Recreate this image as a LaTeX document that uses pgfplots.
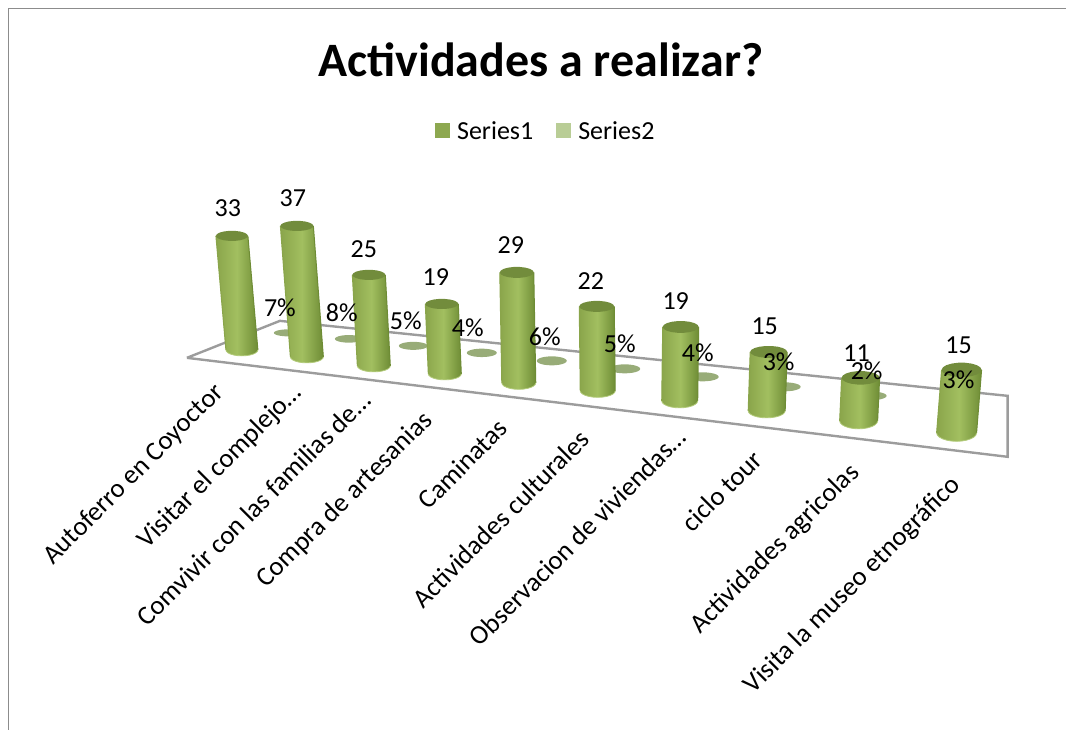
\documentclass[border=0pt]{standalone}
\usepackage{pgfplots}
\usepackage{pgfplotstable}
\usepackage{fontspec}
\setmainfont{Carlito}
\pgfplotsset{compat=1.18}
\definecolor{barL}{HTML}{8AA54B}
\definecolor{barM}{HTML}{A2BF60}
\definecolor{barR}{HTML}{6E8C35}
\definecolor{barTop}{HTML}{728C3C}
\definecolor{barRim}{HTML}{B3CB7B}
\definecolor{legA}{HTML}{8DA850}
\definecolor{legB}{HTML}{B9CD96}
\definecolor{discC}{HTML}{98AC78}
\definecolor{floorC}{HTML}{9C9C9C}
\definecolor{frameC}{HTML}{8C8C8C}
% Series1: value, base x, base y, top x, px per unit, half width, ellipse half height
\pgfplotstableread{
v xb yb xt k hw ry
33 242 350 232 3.455 16 6
37 307 357 297 3.54 16.5 6
25 374 366 369 3.64 16.5 6
19 445 374 442 3.68 16.5 6
29 519 383 517 3.81 17 6.5
22 598 391 597 3.84 17.5 6.5
19 680 401 681 3.89 18 7
15 767 411 769 3.93 18.5 7
11 859 421 861 3.91 19 8
15 957 433 962 4.2 20 8.5
}\seriesA
% Series2 discs on the floor: percent, x, y, half axes
\pgfplotstableread{
p x y rx ry
7 288 333 14 3.5
8 349 339 14 3.8
5 413.5 346 14.5 4
4 482 353 15 4.2
6 552 361 15 4.5
5 625 369 15.5 4.5
4 703 377 16 4.5
3 785 387 16 4.5
2 870 396 17 4.5
3 962 405 17 4.5
}\seriesB
\pgfplotstableread{
x y l
228 208 33
293 198 37
364 249 25
436 277 19
511 245 29
591 281 22
676 301 19
765 326 15
857 353 11
959 345 15
}\labelsA
\pgfplotstableread{
x y l
280 308 7\%
342 313 8\%
406 321 5\%
468 328 4\%
545 337 6\%
620 344 5\%
698 353 4\%
779 362 3\%
867 371 2\%
959 380 3\%
}\labelsB
\newcommand\cyl[7]{%
 % #1 value #2 xb #3 yb #4 xt #5 k #6 hw #7 ry
 \pgfmathsetmacro\yt{#3-#5*#1}%
 \gdef\rimlist{}%
 \foreach \a in {180,165,...,0}{%
   \pgfmathsetmacro\px{#2+#6*cos(\a)}%
   \pgfmathsetmacro\py{#3+#7*sin(\a)}%
   \xdef\rimlist{\rimlist(\px,\py)}%
 }%
 \pgfmathsetmacro\xa{#4-#6}\pgfmathsetmacro\xb{#4+#6}%
 \pgfmathsetmacro\xc{#2-#6}\pgfmathsetmacro\xd{#2+#6}%
 \xdef\bodylist{(\xa,\yt)\rimlist(\xb,\yt)}%
 \gdef\toplist{}%
 \foreach \a in {0,20,...,340}{%
   \pgfmathsetmacro\px{#4+#6*cos(\a)}%
   \pgfmathsetmacro\py{\yt+(#7*0.85)*sin(\a)}%
   \xdef\toplist{\toplist(\px,\py)}%
 }%
 \edef\tmp{\noexpand\addplot[draw=none,left color=barL,right color=barR,middle color=barM,forget plot] coordinates {\bodylist} --cycle;
   \noexpand\addplot[barL,line width=1pt,forget plot] coordinates {(\xa,\yt)(\xc,#3)};
   \noexpand\addplot[barR,line width=1pt,forget plot] coordinates {(\xb,\yt)(\xd,#3)};
   \noexpand\addplot[barRim,line width=0.8pt,forget plot] coordinates {\rimlist};
   \noexpand\addplot[draw=none,fill=barTop,forget plot] coordinates {\toplist} --cycle;}%
 \tmp
}
\newcommand\disc[4]{%
 \gdef\disclist{}%
 \foreach \a in {0,15,...,345}{%
   \pgfmathsetmacro\px{#1+#3*cos(\a)}%
   \pgfmathsetmacro\py{#2+#4*sin(\a)}%
   \xdef\disclist{\disclist(\px,\py)}%
 }%
 \edef\tmp{\noexpand\addplot[draw=none,fill=discC,forget plot] coordinates {\disclist} --cycle;}%
 \tmp
}
\begin{document}
\begin{tikzpicture}
\begin{axis}[
  scale only axis,width=1066pt,height=730pt,
  xmin=0,xmax=1066,ymin=0,ymax=730,y dir=reverse,
  hide axis,clip=false,
  legend style={at={(axis cs:546,131)},anchor=center,draw=none,fill=none,font=\fontsize{26}{30}\selectfont,legend columns=2,
    /tikz/every even column/.append style={column sep=21pt},inner sep=0pt},
  legend cell align=left,
]
\path (axis cs:0,0) (axis cs:1066,730);
% frame
\addplot[frameC,line width=0.9pt,forget plot] coordinates {(8.5,730)(8.5,8.5)(1066,8.5)};
% floor
\addplot[floorC,line width=2.4pt,forget plot] coordinates {(187,358)(280,321)(1008,396)(1008,457)(187,358)};
% series 2
\pgfplotstablegetrowsof{\seriesB}
\pgfmathtruncatemacro\nrowsB{\pgfplotsretval-1}
\foreach \r in {0,...,\nrowsB}{%
  \pgfplotstablegetelem{\r}{x}\of\seriesB\let\dx\pgfplotsretval
  \pgfplotstablegetelem{\r}{y}\of\seriesB\let\dy\pgfplotsretval
  \pgfplotstablegetelem{\r}{rx}\of\seriesB\let\drx\pgfplotsretval
  \pgfplotstablegetelem{\r}{ry}\of\seriesB\let\dry\pgfplotsretval
  \edef\doit{\noexpand\disc{\dx}{\dy}{\drx}{\dry}}%
  \doit
}
% series 1
\pgfplotstablegetrowsof{\seriesA}
\pgfmathtruncatemacro\nrows{\pgfplotsretval-1}
\foreach \r in {0,...,\nrows}{%
  \pgfplotstablegetelem{\r}{v}\of\seriesA\let\cv\pgfplotsretval
  \pgfplotstablegetelem{\r}{xb}\of\seriesA\let\cxb\pgfplotsretval
  \pgfplotstablegetelem{\r}{yb}\of\seriesA\let\cyb\pgfplotsretval
  \pgfplotstablegetelem{\r}{xt}\of\seriesA\let\cxt\pgfplotsretval
  \pgfplotstablegetelem{\r}{k}\of\seriesA\let\ck\pgfplotsretval
  \pgfplotstablegetelem{\r}{hw}\of\seriesA\let\chw\pgfplotsretval
  \pgfplotstablegetelem{\r}{ry}\of\seriesA\let\cry\pgfplotsretval
  \edef\doit{\noexpand\cyl{\cv}{\cxb}{\cyb}{\cxt}{\ck}{\chw}{\cry}}%
  \doit
}
% data labels
\addplot[only marks,mark=none,forget plot,point meta=explicit symbolic,nodes near coords,
  nodes near coords style={anchor=center,font=\fontsize{26}{30}\selectfont,inner sep=0pt,text=black}]
  table[x=x,y=y,meta=l] {\labelsA};
\addplot[only marks,mark=none,forget plot,point meta=explicit symbolic,nodes near coords,
  nodes near coords style={anchor=center,font=\fontsize{26}{30}\selectfont,inner sep=0pt,text=black}]
  table[x=x,y=y,meta=l] {\labelsB};
% legend
\addlegendimage{legend image code/.code={\path[draw=none,fill=none] (0pt,0pt) rectangle (20pt,1pt);\fill[legA,draw=none] (0pt,-7.5pt) rectangle (15pt,7.5pt);}}
\addlegendentry{Series1}
\addlegendimage{legend image code/.code={\path[draw=none,fill=none] (0pt,0pt) rectangle (20pt,1pt);\fill[legB,draw=none] (0pt,-7.5pt) rectangle (15pt,7.5pt);}}
\addlegendentry{Series2}
% text
\node[font=\fontsize{48}{52}\selectfont\bfseries] at (axis cs:541,60) {Actividades a realizar?};
\tikzset{cat/.style={rotate=45,anchor=east,font=\fontsize{26.8}{30}\selectfont,inner sep=0pt}}
\node[cat] at (axis cs:220,389) {Autoferro en Coyoctor};
\node[cat] at (axis cs:298,389) {Visitar el complejo…};
\node[cat] at (axis cs:366,396) {Comvivir con las familias de…};
\node[cat] at (axis cs:429,417) {Compra de artesanias};
\node[cat] at (axis cs:503,424) {Caminatas};
\node[cat] at (axis cs:585,435) {Actividades culturales};
\node[cat] at (axis cs:682,433) {Observacion de viviendas…};
\node[cat] at (axis cs:758,455) {ciclo tour};
\node[cat] at (axis cs:856,469) {Actividades agricolas};
\node[cat] at (axis cs:957,482) {Visita la museo etnográfico};
\end{axis}
\end{tikzpicture}
\end{document}
